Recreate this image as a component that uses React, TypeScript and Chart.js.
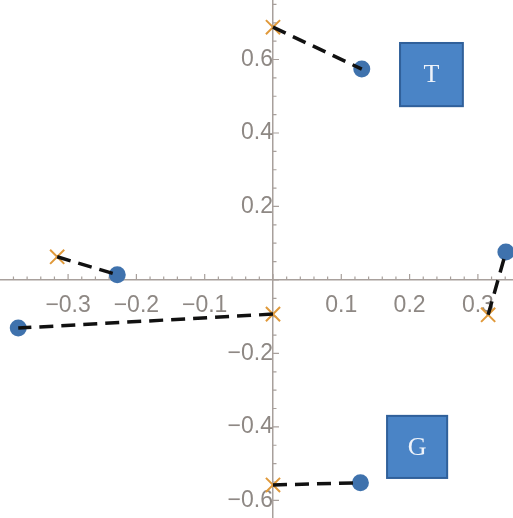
import React, { useEffect, useRef } from "react";
import { Chart, registerables } from "chart.js";

Chart.register(...registerables);

// Pairs: crosses (orange) and dots (blue), joined by dashed lines
const crossX = [0, -0.316, 0, 0.315, 0];
const crossY = [0.688, 0.063, -0.093, -0.095, -0.558];
const dotX = [0.13, -0.228, -0.373, 0.341, 0.128];
const dotY = [0.574, 0.014, -0.131, 0.076, -0.552];

// Tick labels
const xTicks = [-0.3, -0.2, -0.1, 0.1, 0.2, 0.3];
const yTicks = [-0.6, -0.4, -0.2, 0.2, 0.4, 0.6];
const xMinorStep = 0.02;
const yMinorStep = 0.05;

// Labelled boxes (in data coordinates)
const boxLabels = ["T", "G"];
const boxX0 = [0.186, 0.167];
const boxX1 = [0.278, 0.255];
const boxY0 = [0.473, -0.539];
const boxY1 = [0.645, -0.37];

const AXIS_COLOR = "#a8a09c";
const LABEL_COLOR = "#8e8884";

function fmt(v: number) {
  const s = Math.abs(v).toFixed(1);
  return v < 0 ? "\u2212" + s : s;
}

const zeroPad = (s: any) => {
  s.paddingTop = 0;
  s.paddingBottom = 0;
  s.paddingLeft = 0;
  s.paddingRight = 0;
};

const decorPlugin = {
  id: "decor",
  afterDatasetsDraw(chart: any) {
    const ctx = chart.ctx;
    const xs = chart.scales.x;
    const ys = chart.scales.y;
    ctx.save();
    for (let i = 0; i < boxLabels.length; i++) {
      const l = xs.getPixelForValue(boxX0[i]);
      const r = xs.getPixelForValue(boxX1[i]);
      const t = ys.getPixelForValue(boxY1[i]);
      const b = ys.getPixelForValue(boxY0[i]);
      ctx.fillStyle = "#4a84c6";
      ctx.fillRect(l, t, r - l, b - t);
      ctx.strokeStyle = "#30609a";
      ctx.lineWidth = 2;
      ctx.strokeRect(l, t, r - l, b - t);
      ctx.fillStyle = "#eef3fa";
      ctx.font = "26px 'Liberation Serif', serif";
      ctx.textAlign = "center";
      ctx.textBaseline = "middle";
      ctx.fillText(boxLabels[i], (l + r) / 2, (t + b) / 2 + 1);
    }
    ctx.restore();
  },
  beforeDatasetsDraw(chart: any) {
    const ctx = chart.ctx;
    const xs = chart.scales.x;
    const ys = chart.scales.y;
    const ox = xs.getPixelForValue(0);
    const oy = ys.getPixelForValue(0);
    ctx.save();
    ctx.strokeStyle = AXIS_COLOR;
    ctx.lineWidth = 1.2;
    ctx.beginPath();
    for (let k = Math.ceil(xs.min / xMinorStep); k * xMinorStep <= xs.max; k++) {
      const v = k * xMinorStep;
      const major = k % 5 === 0;
      const px = xs.getPixelForValue(v);
      ctx.moveTo(px, oy);
      ctx.lineTo(px, oy - (major ? 6 : 3.5));
    }
    for (let k = Math.ceil(ys.min / yMinorStep); k * yMinorStep <= ys.max; k++) {
      const v = k * yMinorStep;
      const major = k % 4 === 0;
      const py = ys.getPixelForValue(v);
      ctx.moveTo(ox, py);
      ctx.lineTo(ox + (major ? 6 : 3.5), py);
    }
    ctx.stroke();
    ctx.restore();
  },
};

export default function App() {
  const ref = useRef<HTMLCanvasElement | null>(null);
  useEffect(() => {
    if (!ref.current) return;
    const lineSets = crossX.map((_, i) => ({
      type: "scatter" as const,
      data: [
        { x: crossX[i], y: crossY[i] },
        { x: dotX[i], y: dotY[i] },
      ],
      showLine: true,
      borderColor: "#111111",
      borderWidth: 3.5,
      borderDash: [14, 8],
      pointRadius: 0,
      pointHoverRadius: 0,
      fill: false,
    }));
    const chart = new Chart(ref.current, {
      type: "scatter",
      data: {
        datasets: [
          ...lineSets,
          {
            data: dotX.map((x, i) => ({ x, y: dotY[i] })),
            pointStyle: "circle",
            pointRadius: 8.5,
            backgroundColor: "#3f72ad",
            borderColor: "#3f72ad",
            borderWidth: 0,
          },
          {
            data: crossX.map((x, i) => ({ x, y: crossY[i] })),
            pointStyle: "crossRot",
            pointRadius: 10,
            borderColor: "#e0993a",
            borderWidth: 2,
          },
        ] as any,
      },
      options: {
        responsive: false,
        animation: false,
        maintainAspectRatio: false,
        layout: { padding: 0, autoPadding: false } as any,
        clip: false as any,
        plugins: { legend: { display: false }, tooltip: { enabled: false } },
        scales: {
          x: {
            type: "linear",
            min: -0.3997,
            max: 0.3514,
            position: { y: 0 } as any,
            grid: { display: false, drawTicks: false },
            border: { display: true, color: AXIS_COLOR, width: 1.5 },
            afterBuildTicks: (scale: any) => {
              scale.ticks = xTicks.map((v) => ({ value: v }));
            },
            afterFit: zeroPad,
            ticks: {
              autoSkip: false,
              maxRotation: 0,
              padding: 12,
              color: LABEL_COLOR,
              font: { family: "'Liberation Sans', Arial, sans-serif", size: 23 },
              callback: (v: any) => fmt(Number(v)),
            },
          },
          y: {
            type: "linear",
            min: -0.648,
            max: 0.762,
            position: { x: 0 } as any,
            grid: { display: false, drawTicks: false },
            border: { display: true, color: AXIS_COLOR, width: 1.5 },
            afterBuildTicks: (scale: any) => {
              scale.ticks = yTicks.map((v) => ({ value: v }));
            },
            afterFit: zeroPad,
            ticks: {
              autoSkip: false,
              padding: 10,
              color: LABEL_COLOR,
              font: { family: "'Liberation Sans', Arial, sans-serif", size: 23 },
              callback: (v: any) => fmt(Number(v)),
            },
          },
        },
      },
      plugins: [decorPlugin],
    });
    return () => chart.destroy();
  }, []);
  return (
    <div style={{ position: "absolute", left: 0, top: 0, width: 513, height: 518, background: "#fff" }}>
      <canvas ref={ref} width={513} height={518} style={{ width: 513, height: 518, display: "block" }} />
    </div>
  );
}
